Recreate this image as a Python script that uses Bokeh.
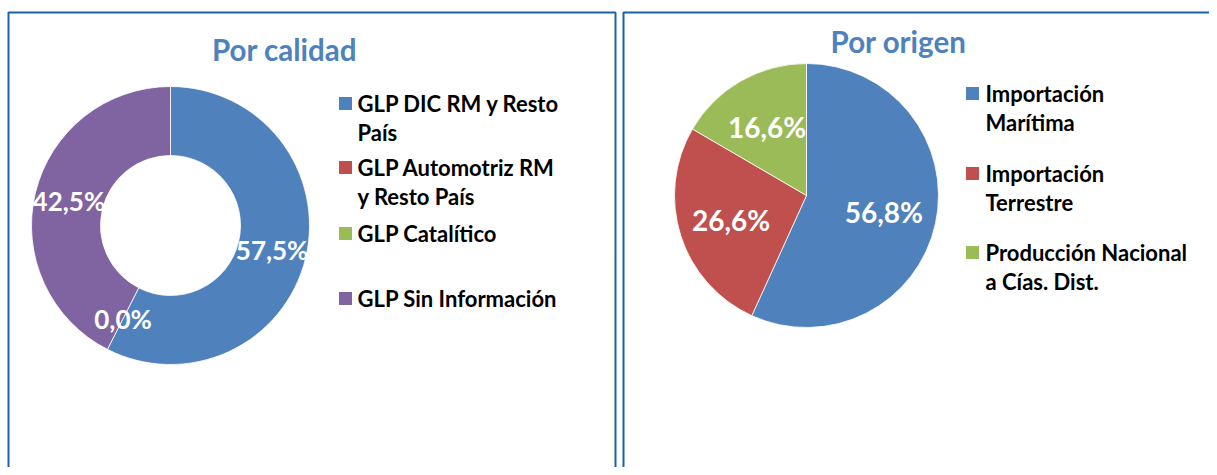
import math
from bokeh.plotting import figure
from bokeh.models import Range1d, ColumnDataSource
from bokeh.core.properties import value
from bokeh.embed import file_html
from bokeh.resources import INLINE

# ---------------- data ----------------
calidad_title = "Por calidad"
calidad_categories = ["GLP DIC RM y Resto País", "GLP Automotriz RM y Resto País",
                      "GLP Catalítico", "GLP Sin Información"]
calidad_legend_lines = [["GLP DIC RM y Resto", "País"], ["GLP Automotriz RM", "y Resto País"],
                        ["GLP Catalítico"], ["GLP Sin Información"]]
calidad_values = [57.5, 0.0, 0.0, 42.5]
calidad_colors = ["#4F81BD", "#C0504D", "#9BBB59", "#8064A2"]

origen_title = "Por origen"
origen_categories = ["Importación Marítima", "Importación Terrestre",
                     "Producción Nacional a Cías. Dist."]
origen_legend_lines = [["Importación", "Marítima"], ["Importación", "Terrestre"],
                       ["Producción Nacional", "a Cías. Dist."]]
origen_values = [56.8, 26.6, 16.6]
origen_colors = ["#4F81BD", "#C0504D", "#9BBB59"]

# ---------------- layout ----------------
W, H = 1209, 467
FONT = value("Lato")
TITLE_COLOR = "#4F81BD"
BORDER = "#1A62A8"


def fmt(v):
    return f"{v:.1f}%".replace(".", ",")


def angles(values):
    total = sum(values)
    starts, ends, mids = [], [], []
    cum = 0.0
    for v in values:
        a0 = math.pi / 2 - 2 * math.pi * cum / total
        cum += v
        a1 = math.pi / 2 - 2 * math.pi * cum / total
        starts.append(a0)
        ends.append(a1)
        mids.append((a0 + a1) / 2)
    return starts, ends, mids


p = figure(width=W, height=H, x_range=Range1d(0, W), y_range=Range1d(0, H),
           output_backend="svg", toolbar_location=None, min_border=0,
           x_axis_type=None, y_axis_type=None)
p.grid.visible = False
p.outline_line_color = None
p.background_fill_color = "white"
p.border_fill_color = "white"

# panel borders
p.quad(left=[8, 623], right=[615, 1240], top=[455, 455], bottom=[-20, -20],
       fill_color=None, line_color=BORDER, line_width=2)


def draw_labels(cx, cy, r, values, mids, size):
    xs, ys, ts = [], [], []
    seen = set()
    for v, m in zip(values, mids):
        x = cx + r * math.cos(m)
        y = cy + r * math.sin(m)
        key = (round(x), round(y))
        if key in seen:
            continue
        seen.add(key)
        xs.append(x); ys.append(y); ts.append(fmt(v))
    p.text(x=xs, y=ys, text=ts, text_color="white", text_font=FONT,
           text_font_style="bold", text_font_size=size,
           text_align="center", text_baseline="middle")


def draw_legend(sq_x, tx, row_ys, lines, colors, size, line_step):
    p.rect(x=[sq_x] * len(row_ys), y=row_ys, width=13, height=13,
           width_units="screen", height_units="screen",
           fill_color=colors, line_color=None)
    xs, ys, ts = [], [], []
    for ry, ls in zip(row_ys, lines):
        for k, t in enumerate(ls):
            xs.append(tx); ys.append(ry - k * line_step); ts.append(t)
    p.text(x=xs, y=ys, text=ts, text_color="black", text_font=FONT,
           text_font_style="bold", text_font_size=size,
           text_align="left", text_baseline="middle")


# ---------- left: donut ----------
cx1, cy1, R1, r1 = 170, 242, 139, 70
s, e, m = angles(calidad_values)
idx = [i for i, v in enumerate(calidad_values) if v > 0]
src1 = ColumnDataSource(dict(
    start=[s[i] for i in idx], end=[e[i] for i in idx],
    color=[calidad_colors[i] for i in idx]))
p.annular_wedge(x=cx1, y=cy1, inner_radius=r1, outer_radius=R1,
                start_angle="start", end_angle="end", direction="clock",
                fill_color="color", line_color="white", line_width=0.8, source=src1)
draw_labels(cx1, cy1, (R1 + r1) / 2, calidad_values, m, "26px")

p.text(x=[284], y=[418], text=[calidad_title], text_color=TITLE_COLOR,
       text_font=FONT, text_font_style="bold", text_font_size="29.5px",
       text_align="center", text_baseline="alphabetic")

draw_legend(345, 357, [364, 300, 234, 169], calidad_legend_lines,
            calidad_colors, "22px", 29)

# ---------- right: pie ----------
cx2, cy2, R2 = 806, 272, 132
s, e, m = angles(origen_values)
src2 = ColumnDataSource(dict(start=s, end=e, color=origen_colors))
p.wedge(x=cx2, y=cy2, radius=R2, start_angle="start", end_angle="end",
        direction="clock", fill_color="color", line_color="white",
        line_width=0.8, source=src2)
draw_labels(cx2, cy2, 0.6 * R2, origen_values, m, "28px")

p.text(x=[898], y=[426], text=[origen_title], text_color=TITLE_COLOR,
       text_font=FONT, text_font_style="bold", text_font_size="29.5px",
       text_align="center", text_baseline="alphabetic")

draw_legend(972, 985, [374, 294, 215], origen_legend_lines,
            origen_colors, "22px", 29)

open("out.html", "w").write(file_html(p, INLINE))
